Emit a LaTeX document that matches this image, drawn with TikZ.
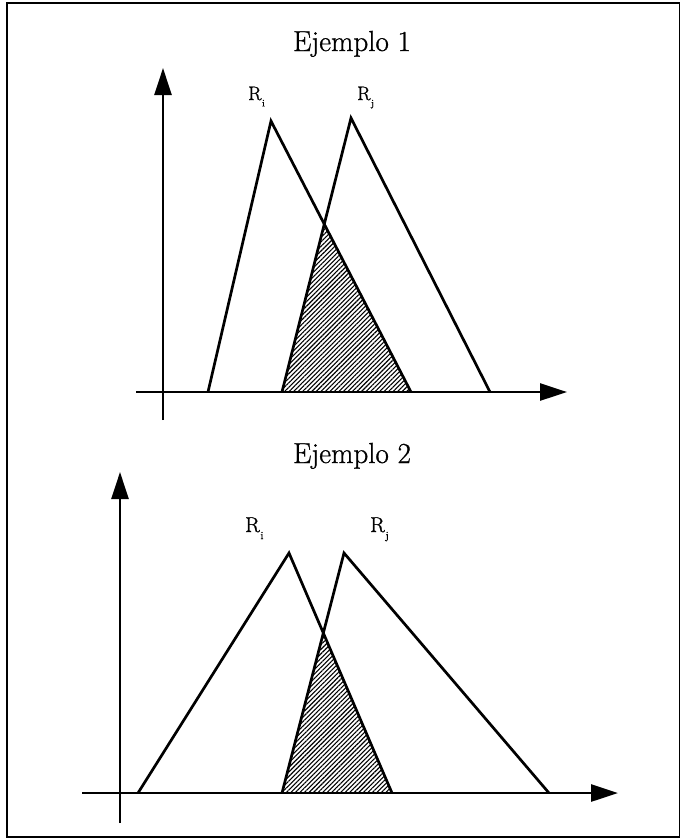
\documentclass[tikz,border=0pt]{standalone}
\usepackage{fontspec}
\setmainfont{Latin Modern Roman}
\newfontfamily\scanfont{Latin Modern Roman}[FakeBold=0.9]
\usetikzlibrary{arrows.meta,patterns.meta}
\newcommand\Rlab[2]{R\kern0.03em\raisebox{-0.33em}{\fontsize{#2}{#2}\selectfont #1}}
\begin{document}
\begin{tikzpicture}[x=1pt,y=-1pt,
  tri/.style={line width=2.7pt, line join=miter},
  axisline/.style={line width=2.8pt, -{Triangle[length=27pt,width=17pt]}},
  frame/.style={line width=1.6pt},
  ttl/.style={anchor=base, inner sep=0pt, font=\scanfont\fontsize{29}{32}\selectfont},
  rlab/.style={anchor=base west, inner sep=0pt},
  hatch/.style={pattern={Lines[angle=45,distance=3.2pt,line width=1.1pt]}}]
\useasboundingbox (0,0) rectangle (681,839);
% frame
\coordinate (f1) at (7,3);
\coordinate (f2) at (679.5,837);
\draw[frame] (f1) rectangle (f2);

% ---------- Example 1 ----------
\node[ttl] (t1) at (352,51) {Ejemplo 1};
\coordinate (y1b) at (163,420);
\coordinate (y1t) at (163,68);
\coordinate (x1l) at (136,392);
\coordinate (x1r) at (567,392);
\coordinate (a1) at (208,392);
\coordinate (a2) at (271,121);
\coordinate (a3) at (411,392);
\coordinate (b1) at (282,392);
\coordinate (b2) at (351,118);
\coordinate (b3) at (490,392);
\begin{scope}
  \clip (a1) -- (a2) -- (a3) -- cycle;
  \fill[hatch] (b1) -- (b2) -- (b3) -- cycle;
\end{scope}
\draw[axisline] (y1b) -- (y1t);
\draw[axisline] (x1l) -- (x1r);
\draw[tri] (a1) -- (a2) -- (a3);
\draw[tri] (b1) -- (b2) -- (b3);
\node[rlab, font=\scanfont\fontsize{19.5}{22}\selectfont] (r1i) at (248,100) {\Rlab{i}{10}};
\node[rlab, font=\scanfont\fontsize{19.5}{22}\selectfont] (r1j) at (357,100) {\Rlab{j}{10}};

% ---------- Example 2 ----------
\node[ttl] (t2) at (352,463) {Ejemplo 2};
\coordinate (y2b) at (120,823);
\coordinate (y2t) at (120,472);
\coordinate (x2l) at (82,793);
\coordinate (x2r) at (618,793);
\coordinate (c1) at (138,793);
\coordinate (c2) at (289,553);
\coordinate (c3) at (392,793);
\coordinate (d1) at (282,793);
\coordinate (d2) at (344,553);
\coordinate (d3) at (549,793);
\begin{scope}
  \clip (c1) -- (c2) -- (c3) -- cycle;
  \fill[hatch] (d1) -- (d2) -- (d3) -- cycle;
\end{scope}
\draw[axisline] (y2b) -- (y2t);
\draw[axisline] (x2l) -- (x2r);
\draw[tri] (c1) -- (c2) -- (c3);
\draw[tri] (d1) -- (d2) -- (d3);
\node[rlab, font=\scanfont\fontsize{21.5}{24}\selectfont] (r2i) at (245,532) {\Rlab{i}{11}};
\node[rlab, font=\scanfont\fontsize{21.5}{24}\selectfont] (r2j) at (370,532) {\Rlab{j}{11}};
\end{tikzpicture}
\end{document}
